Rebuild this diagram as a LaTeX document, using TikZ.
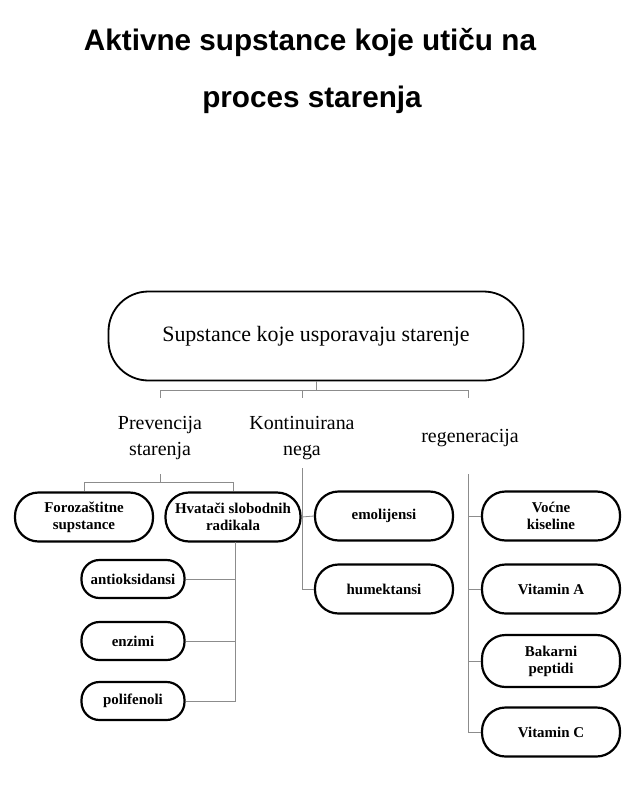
\documentclass[tikz,border=0pt]{standalone}
\usepackage{fontspec}
\setmainfont{Liberation Serif}
\newfontfamily\titlefont{Liberation Sans}
\begin{document}
\begin{tikzpicture}[x=1bp,y=-1bp,
  box/.style={draw=black,line width=2.2bp,rounded corners=23.5bp,minimum width=138bp,minimum height=49bp,
    align=center,inner sep=1bp,font=\fontsize{15}{17}\selectfont\bfseries},
  sbox/.style={draw=black,line width=2.2bp,rounded corners=18bp,minimum width=103bp,minimum height=38bp,
    align=center,inner sep=1bp,font=\fontsize{15}{17}\selectfont\bfseries},
  cat/.style={align=center,font=\fontsize{20}{26}\selectfont},
  conn/.style={draw=black!45,line width=0.8bp},
  ttl/.style={font=\titlefont\fontsize{29.8}{32}\selectfont\bfseries}]
\useasboundingbox (0,0) rectangle (644,789);
\fill[white] (0,0) rectangle (644,789);
\node[ttl] (t1) at (310,42) {Aktivne supstance koje utiču na};
\node[ttl] (t2) at (312,100) {proces starenja};
\node[draw=black,line width=1.8bp,rounded corners=40bp,minimum width=415bp,minimum height=89bp,
  font=\fontsize{22}{26}\selectfont] (main) at (316,336) {Supstance koje usporavaju starenje};
\node[cat] (prev) at (160,438) {Prevencija\\starenja};
\node[cat] (kont) at (302,438) {Kontinuirana\\nega};
\node[cat] (regen) at (470,438) {regeneracija};
% boxes
\node[box] (foro) at (84,517) {Forozaštitne\\supstance};
\node[box,minimum width=135bp] (hv) at (233,517) {Hvatači slobodnih\\radikala};
\node[sbox] (anti) at (133,579) {antioksidansi};
\node[sbox] (enz) at (133,641) {enzimi};
\node[sbox] (poli) at (133,701) {polifenoli};
\node[box] (emol) at (384,516) {emolijensi};
\node[box] (hum) at (384,589) {humektansi};
\node[box] (voc) at (551,516) {Voćne\\kiseline};
\node[box] (vita) at (551,589) {Vitamin A};
\node[box,minimum height=52bp] (bak) at (551,661) {Bakarni\\peptidi};
\node[box] (vitc) at (551,732) {Vitamin C};
% coordinates
\coordinate (bus) at (318,390);
\coordinate (busL) at (160,390);
\coordinate (busR) at (468,390);
\coordinate (busM) at (302,390);
\coordinate (tp) at (160,398);
\coordinate (tk) at (302,398);
\coordinate (tr) at (468,398);
\coordinate (p0) at (160,474);
\coordinate (p1) at (160,482);
\coordinate (pL) at (84,482);
\coordinate (pR) at (233,482);
\coordinate (k0) at (302,468);
\coordinate (r0) at (468,474);
\coordinate (hx) at (235,542);
% connectors
\draw[conn] (main.south) -- (main.south |- bus);
\draw[conn] (busL) -- (busR);
\draw[conn] (busL) -- (tp);
\draw[conn] (busM) -- (tk);
\draw[conn] (busR) -- (tr);
\draw[conn] (p0) -- (p1);
\draw[conn] (pL) -- (pR);
\draw[conn] (pL) -- (foro.north);
\draw[conn] (pR) -- (hv.north);
\draw[conn] (k0) |- (hum.west);
\draw[conn] (hv.east) -- (emol.west);
\draw[conn] (hx) |- (poli.east);
\draw[conn] (hx |- anti.east) -- (anti.east);
\draw[conn] (hx |- enz.east) -- (enz.east);
\draw[conn] (r0) |- (vitc.west);
\draw[conn] (r0 |- voc.west) -- (voc.west);
\draw[conn] (r0 |- vita.west) -- (vita.west);
\draw[conn] (r0 |- bak.west) -- (bak.west);
\end{tikzpicture}
\end{document}
